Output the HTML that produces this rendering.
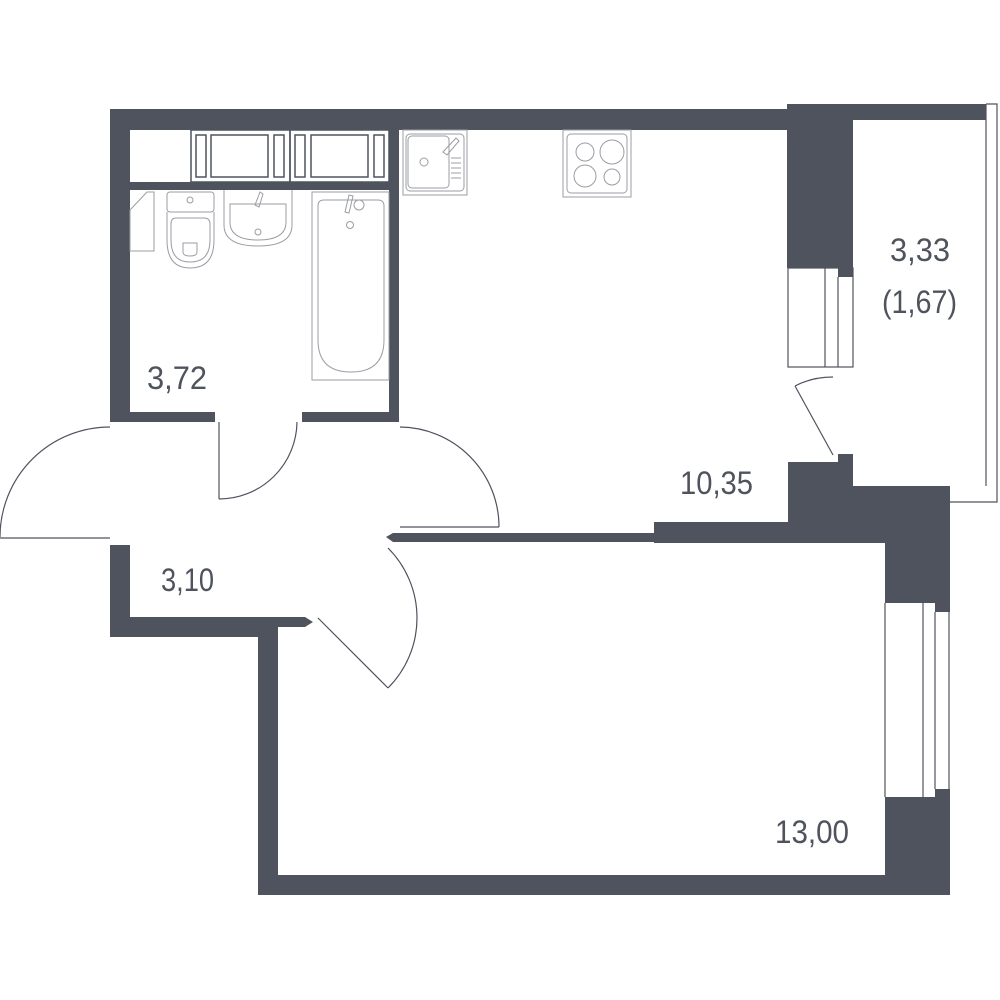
<!DOCTYPE html>
<html><head><meta charset="utf-8"><style>
html,body{margin:0;padding:0;background:#fff;}
svg{display:block;}
text{font-family:"Liberation Sans","DejaVu Sans",sans-serif;fill:#4f535d;}
</style></head><body>
<svg width="1000" height="1000" viewBox="0 0 1000 1000" xmlns="http://www.w3.org/2000/svg">
<g fill="#4f535d">
<!-- top wall -->
<rect x="110" y="109" width="680" height="21"/>
<rect x="787" y="104" width="66" height="164"/>
<rect x="838" y="104" width="15" height="173"/>
<rect x="853" y="104" width="133" height="16"/>
<!-- bathroom walls -->
<rect x="110" y="109" width="20" height="313"/>
<rect x="110" y="412" width="105" height="10"/>
<rect x="302" y="412" width="97" height="10"/>
<rect x="389" y="130" width="10" height="292"/>
<rect x="130" y="182" width="259" height="8"/>
<!-- entrance walls -->
<rect x="110" y="545" width="20" height="92"/>
<rect x="110" y="617" width="168" height="20"/>
<rect x="258" y="617" width="20" height="278"/>
<rect x="278" y="617" width="27" height="10"/>
<polygon points="305,617 313,622 305,627"/>
<!-- kitchen/living partition -->
<polygon points="386,537 393,533 393,542"/>
<rect x="393" y="533" width="400" height="9"/>
<rect x="654" y="522" width="140" height="21"/>
<rect x="788" y="462" width="65" height="81"/>
<rect x="838" y="454" width="15" height="20"/>
<rect x="853" y="486" width="97" height="57"/>
<rect x="885" y="540" width="65" height="63"/>
<rect x="935" y="600" width="15" height="12"/>
<!-- lower right -->
<rect x="885" y="797" width="65" height="98"/>
<rect x="935" y="789" width="15" height="10"/>
<rect x="258" y="875" width="692" height="20"/>
</g>
<g fill="none" stroke="#4f535d" stroke-width="1.2">
<!-- balcony frame -->
<polyline points="986,104 997,104 997,502 950,502"/>
<line x1="986" y1="104" x2="986" y2="486"/>
<!-- kitchen window -->
<rect x="788" y="268" width="65" height="99"/>
<line x1="825" y1="268" x2="825" y2="367"/>
<line x1="838" y1="277" x2="838" y2="367"/>
<!-- living window -->
<line x1="885" y1="603" x2="885" y2="797"/>
<line x1="923" y1="603" x2="923" y2="797"/>
<line x1="935" y1="612" x2="935" y2="789"/>
<line x1="949" y1="612" x2="949" y2="789"/>
<!-- balcony door -->
<line x1="833" y1="455" x2="795" y2="386"/>
<path d="M795,386 Q812,377 833,377"/>
<!-- bathroom door -->
<line x1="219" y1="422" x2="219" y2="499"/>
<path d="M219,499 A78,78 0 0 0 297,422"/>
<!-- entrance door -->
<path d="M110,427 A110,110 0 0 0 0,537"/>
<line x1="0" y1="538" x2="110" y2="538"/>
<!-- kitchen door -->
<path d="M400,427 A100,100 0 0 1 499,527"/>
<line x1="400" y1="527" x2="499" y2="527"/>
<!-- living door -->
<line x1="318" y1="618" x2="388" y2="688"/>
<path d="M388,548 A99,99 0 0 1 388,688"/>
</g>
<g fill="none" stroke="#4f535d" stroke-width="1.5">
<!-- cabinets -->
<rect x="191" y="130" width="99" height="52"/>
<rect x="290" y="130" width="99" height="52"/>
<rect x="196" y="135" width="10" height="42"/>
<rect x="211" y="135" width="57" height="42"/>
<rect x="274" y="135" width="10" height="42"/>
<rect x="295" y="135" width="10" height="42"/>
<rect x="311" y="135" width="57" height="42"/>
<rect x="374" y="135" width="10" height="42"/>
</g>
<g fill="none" stroke="#9a9da3" stroke-width="1">
<polygon points="130,210 147,192 154,192 154,251 130,251"/>
<!-- toilet -->
<rect x="167" y="192" width="47" height="20" rx="3"/>
<circle cx="190" cy="200" r="3"/>
<path d="M167,212 L167,240 Q167,268 190,268 Q214,268 214,240 L214,212"/>
<path d="M171,224 Q171,218 176,218 L204,218 Q210,218 210,224 L210,240 Q210,262 190,262 Q171,262 171,240 Z"/>
<path d="M183,243 L197,243 L197,252 Q197,256 190,256 Q183,256 183,252 Z"/>
<!-- sink -->
<path d="M224,190 L224,225 Q224,246 258,246 Q292,246 292,225 L292,190"/>
<path d="M230,204 L286,204 L286,222 Q286,240 258,240 Q230,240 230,222 Z"/>
<circle cx="258" cy="232" r="3"/>
<path d="M255,205 L260,192 L263,194 L259,207 Z"/>
<!-- bath -->
<rect x="312" y="192" width="77" height="188"/>
<path d="M318,206 Q318,200 324,200 L378,200 Q384,200 384,206 L384,340 Q384,372 351,372 Q318,372 318,340 Z"/>
<circle cx="350" cy="225" r="3.5"/>
<circle cx="359" cy="205" r="5"/>
<path d="M345,212 L349,195 L353,196 L349,213 Z"/>
<!-- kitchen sink -->
<rect x="403" y="130" width="64" height="65"/>
<rect x="406" y="134" width="58" height="57" rx="4"/>
<rect x="408" y="136" width="41" height="52" rx="4"/>
<circle cx="424" cy="162" r="4"/>
<line x1="451" y1="158" x2="461" y2="158"/><line x1="451" y1="163" x2="461" y2="163"/><line x1="451" y1="168" x2="461" y2="168"/><line x1="451" y1="173" x2="461" y2="173"/><line x1="451" y1="178" x2="461" y2="178"/>
<path d="M443,152 L456,138 L459,141 L447,155 Z"/>
<!-- stove -->
<rect x="563" y="130" width="68" height="67"/>
<rect x="567" y="134" width="60" height="59" rx="4"/>
<circle cx="585" cy="152" r="9"/>
<circle cx="612" cy="152" r="12"/>
<circle cx="585" cy="176" r="11"/>
<circle cx="612" cy="177" r="8"/>
</g>
<g font-size="32">
<text x="147" y="389" textLength="60" lengthAdjust="spacingAndGlyphs">3,72</text>
<text x="161" y="591" textLength="53" lengthAdjust="spacingAndGlyphs">3,10</text>
<text x="680" y="494" textLength="73" lengthAdjust="spacingAndGlyphs">10,35</text>
<text x="890" y="261" textLength="60" lengthAdjust="spacingAndGlyphs">3,33</text>
<text x="882" y="313" textLength="75" lengthAdjust="spacingAndGlyphs">(1,67)</text>
<text x="775" y="843" textLength="74" lengthAdjust="spacingAndGlyphs">13,00</text>
</g>
</svg>
</body></html>
